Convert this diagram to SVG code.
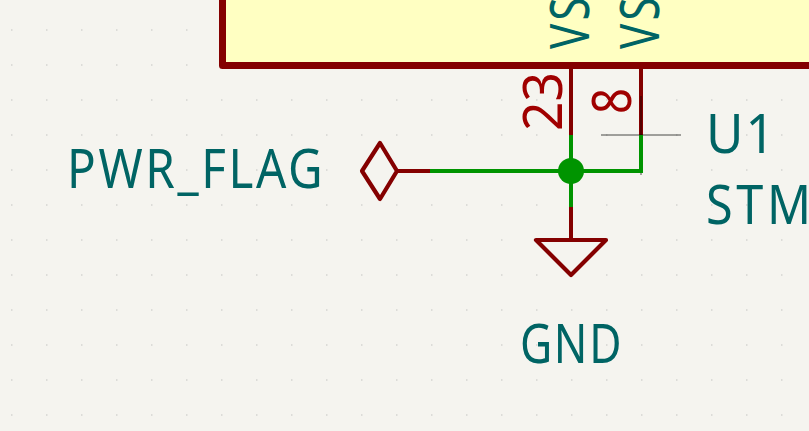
<svg xmlns="http://www.w3.org/2000/svg" width="809" height="431" viewBox="0 0 809 431">
<style>
.t{font-family:"Noto Sans","Liberation Sans",sans-serif;font-size:54px;fill:#006464}
.p{font-family:"Noto Sans","Liberation Sans",sans-serif;font-size:54px;fill:#a00000}
.sym{fill:none;stroke:#840000;stroke-width:4.2;stroke-linejoin:round;stroke-linecap:round}
.pin{fill:none;stroke:#840000;stroke-width:4}
.wire{fill:none;stroke:#009400;stroke-width:4}
</style>
<defs>
<pattern id="grid" width="35" height="35" patternUnits="userSpaceOnUse" x="11" y="30">
<rect x="0" y="-1" width="1.5" height="2" fill="#dcdcd8"/><rect x="0" y="34" width="1.5" height="1" fill="#dcdcd8"/>
</pattern>
</defs>
<rect width="809" height="431" fill="#f5f4ef"/>
<rect width="809" height="431" fill="url(#grid)"/>
<g id="U1">
<rect x="222.5" y="-20" width="640" height="85.5" fill="#ffffc2" stroke="#840000" stroke-width="7" stroke-linejoin="round"/>
<path class="pin" d="M571 68V135M641 68V135"/>
<text class="p" transform="translate(562,131) rotate(-90)" textLength="59" lengthAdjust="spacingAndGlyphs">23</text>
<text class="p" transform="translate(631,114) rotate(-90)" textLength="26" lengthAdjust="spacingAndGlyphs">8</text>
<text class="t" transform="translate(589,49) rotate(-90) scale(.78,1)" letter-spacing="4">VS</text>
<text class="t" transform="translate(659,49) rotate(-90) scale(.78,1)" letter-spacing="4">VS</text>
<path d="M601 135H681M641 96V175" fill="none" stroke="#000" stroke-opacity=".7" stroke-width="1"/>
<text class="t" transform="translate(706,153) scale(.95,1)" letter-spacing="2">U1</text>
<text class="t" transform="translate(706,224) scale(.9,1)" letter-spacing="4">STM3</text>
</g>
<g id="PWR_FLAG">
<path class="pin" d="M397 171H430"/>
<path class="sym" d="M362 171L380 143L397 171L380 199Z"/>
<text class="t" transform="translate(67,188) scale(.88,1)" letter-spacing="3">PWR_FLAG</text>
</g>
<g id="GND">
<path class="pin" d="M571 207V240"/>
<path class="sym" d="M536 240H606L571 275Z"/>
<text class="t" transform="translate(520,363) scale(.82,1)" letter-spacing="2">GND</text>
</g>
<g id="connectors">
<path class="wire" d="M430 171H641V135M571 135V207" stroke-linejoin="miter"/>
<circle cx="571" cy="171" r="13" fill="#009400"/>
</g>
</svg>
